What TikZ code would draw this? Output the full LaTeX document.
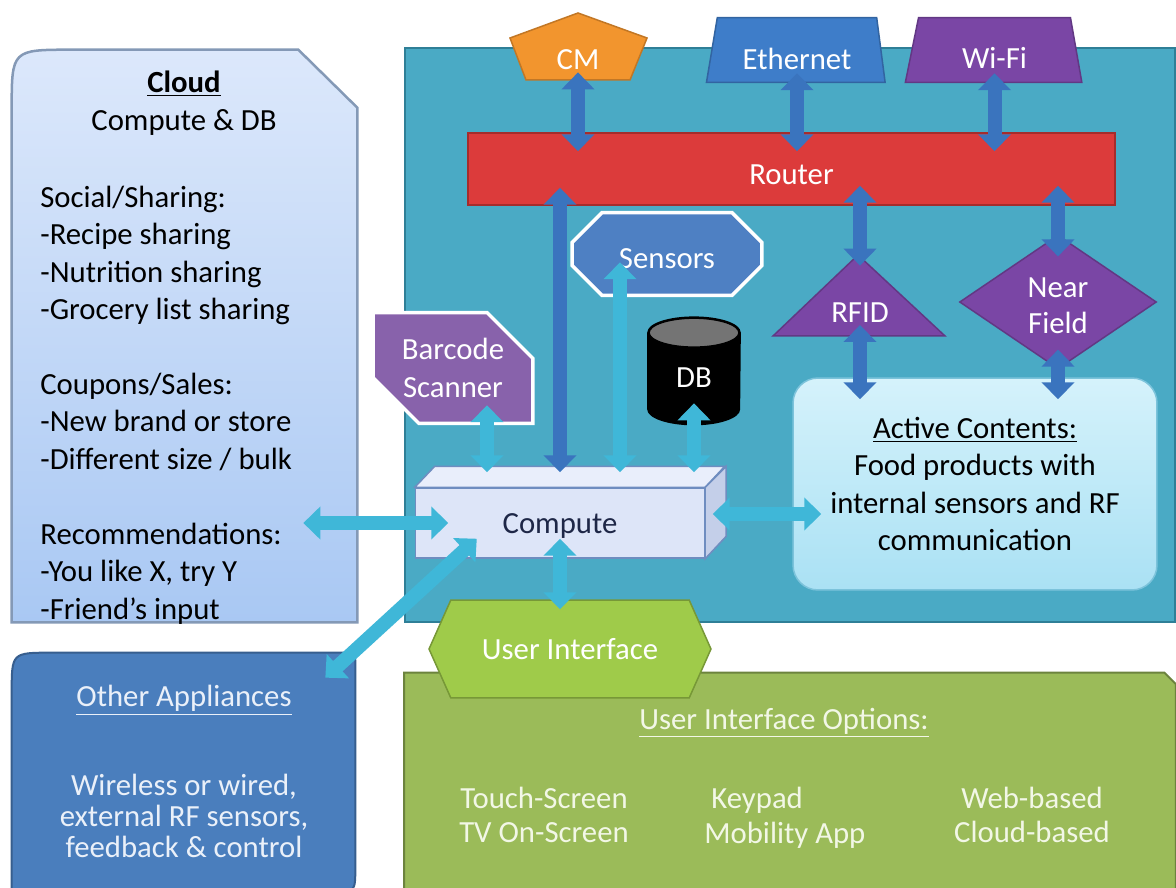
\documentclass[tikz,border=0pt]{standalone}
\usepackage{fontspec}
\setmainfont{Carlito}
\usetikzlibrary{arrows.meta,positioning,calc,shapes.geometric,shapes.misc,shapes.symbols}
\definecolor{fridgeteal}{HTML}{4AAAC5}
\definecolor{fridgeedge}{HTML}{2F7F97}
\definecolor{routerred}{HTML}{DC3B3B}
\definecolor{cmorange}{HTML}{F2952E}
\definecolor{netblue}{HTML}{3E7DC9}
\definecolor{wifipurple}{HTML}{7A46A5}
\definecolor{scanpurple}{HTML}{8862AB}
\definecolor{sensblue}{HTML}{4E80C3}
\definecolor{linkblue}{HTML}{3A74BE}
\definecolor{linkcyan}{HTML}{3FB7D8}
\definecolor{cloudtop}{HTML}{DCE8FB}
\definecolor{cloudbot}{HTML}{A9C8F3}
\definecolor{cloudedge}{HTML}{8499B6}
\definecolor{computefill}{HTML}{DDE5F8}
\definecolor{computetop}{HTML}{E9EEFB}
\definecolor{computeside}{HTML}{C4CFE9}
\definecolor{computeedge}{HTML}{6F8DC0}
\definecolor{computetext}{HTML}{1E2747}
\definecolor{activetop}{HTML}{D5F2FB}
\definecolor{activebot}{HTML}{AAE1F4}
\definecolor{activeedge}{HTML}{7CC3DB}
\definecolor{applblue}{HTML}{4A7EBD}
\definecolor{appltext}{HTML}{EAF0F9}
\definecolor{hexgreen}{HTML}{9FCB4A}
\definecolor{optgreen}{HTML}{9BBB59}
\definecolor{opttext}{HTML}{F2F7E6}
\definecolor{dbtop}{HTML}{747474}
\newcommand{\undl}[1]{\underline{#1}}
\newcommand{\lowtext}[2]{\raisebox{-#1}[\height][\depth]{#2}}
\tikzset{
  boxtext/.style={font=\fontsize{17.5}{21.3}\selectfont, align=center, inner sep=0pt},
  darr/.style={{Triangle[width=0.64cm,length=0.34cm]}-{Triangle[width=0.64cm,length=0.34cm]}, line width=0.28cm, draw=linkblue},
  carr/.style={{Triangle[width=0.64cm,length=0.34cm]}-{Triangle[width=0.64cm,length=0.34cm]}, line width=0.28cm, draw=linkcyan},
}

\begin{document}
\begin{tikzpicture}[x=0.02cm, y=-0.02cm]
\useasboundingbox (0,0) rectangle (1176,888);
\fill[white] (0,0) rectangle (1176,888);

% cloud side
\node[inner sep=0pt, minimum width=6.9cm, minimum height=11.44cm] (cloud) at (184.5,336) {};
\draw[draw=cloudedge, line width=0.05cm, top color=cloudtop, bottom color=cloudbot]
  (cloud.south west) -- ($(cloud.north west)+(0,60)$) .. controls (cloud.north west) .. ($(cloud.north west)+(60,0)$)
  -- ($(cloud.north east)+(-59,0)$) -- ($(cloud.north east)+(0,58)$) -- (cloud.south east) -- cycle;
\node[boxtext] (cloudhead) at (184,103) {\textbf{\undl{Cloud}}\\Compute \& DB};
\node[boxtext, align=left, anchor=west] (cloudlist) at (40,405) {Social/Sharing:\\-Recipe sharing\\-Nutrition sharing\\-Grocery list sharing\\[21.3pt]Coupons/Sales:\\-New brand or store\\-Different size / bulk\\[21.3pt]Recommendations:\\-You like X, try Y\\-Friend’s input};

% fridge box
\node[draw=fridgeedge, fill=fridgeteal, line width=0.05cm, minimum width=15.4cm, minimum height=11.48cm] (fridge) at (790,335) {};

% lower boxes
\node[chamfered rectangle, chamfered rectangle corners=north east, chamfered rectangle xsep=0.68cm, chamfered rectangle ysep=0.64cm, fill=optgreen, draw=optgreen!70!black, line width=0.04cm, minimum width=15.44cm, minimum height=4.7cm] (uiopts) at (790,790) {};
\node[boxtext, text=opttext] (uititle) at (784,723) {\undl{User Interface Options:}};
\node[boxtext, text=opttext, font=\fontsize{17.5}{19.8}\selectfont] (uicol1) at (544,815) {Touch-Screen\\TV On-Screen};
\node[boxtext, text=opttext, font=\fontsize{17.5}{19.8}\selectfont, align=left, anchor=west] (uicol2) at (704,818) {\hspace{4pt}Keypad\\Mobility App};
\node[boxtext, text=opttext, font=\fontsize{17.5}{19.8}\selectfont] (uicol3) at (1032,815) {Web-based\\Cloud-based};

\node[inner sep=0pt, minimum width=6.86cm, minimum height=4.78cm] (other) at (183.5,772.5) {};
\draw[draw=applblue!75!black, line width=0.04cm, fill=applblue]
  ($(other.north west)+(0,40)$) .. controls (other.north west) .. ($(other.north west)+(40,0)$)
  -- ($(other.north east)+(-12,0)$) .. controls (other.north east) .. ($(other.north east)+(0,12)$)
  -- ($(other.south east)+(0,-25)$) .. controls (other.south east) .. ($(other.south east)+(-25,0)$)
  -- (other.south west) -- cycle;
\node[boxtext, text=appltext] (othertitle) at (184,700) {\undl{Other Appliances}};
\node[boxtext, text=appltext, font=\fontsize{17.5}{17.6}\selectfont] (otherbody) at (184,816) {Wireless or wired,\\external RF sensors,\\feedback \& control};

% top row
\filldraw[fill=cmorange, draw=cmorange!80!black, line width=0.03cm] (578,13) -- (647,38) -- (630,80) -- (526,80) -- (510,38) -- cycle;
\node[boxtext, text=white, minimum width=2cm, minimum height=0.88cm] (cm) at (578,58) {\lowtext{0.04cm}{CM}};
\node[trapezium, trapezium left angle=71, trapezium right angle=75, trapezium stretches=true, fill=netblue, draw=netblue!80!black, line width=0.03cm, minimum width=3.58cm, minimum height=1.3cm, boxtext, text=white] (ethernet) at (797,50) {\lowtext{0.18cm}{Ethernet}};
\node[trapezium, trapezium left angle=75, trapezium right angle=77, trapezium stretches=true, fill=wifipurple, draw=wifipurple!80!black, line width=0.03cm, minimum width=3.54cm, minimum height=1.3cm, boxtext, text=white] (wifi) at (994.5,50) {\lowtext{0.16cm}{Wi-Fi}};
\node[fill=routerred, draw=routerred!75!black, line width=0.03cm, minimum width=12.94cm, minimum height=1.44cm, boxtext, text=white] (router) at (791.5,169) {\lowtext{0.12cm}{Router}};

% radios
\filldraw[fill=wifipurple, draw=wifipurple!80!black, line width=0.03cm] (858,255) -- (945,336) -- (773,336) -- cycle;
\node[boxtext, text=white, minimum width=1.5cm, minimum height=1.88cm] (rfid) at (860,313) {RFID};
\node[diamond, fill=wifipurple, draw=wifipurple!80!black, line width=0.03cm, minimum width=3.94cm, minimum height=2.3cm, boxtext, text=white] (nearfield) at (1058,302) {\lowtext{0.12cm}{\begin{tabular}{@{}c@{}}Near\\[-1pt]Field\end{tabular}}};

% inner parts
\node[chamfered rectangle, chamfered rectangle xsep=0.4cm, chamfered rectangle ysep=0.4cm, fill=sensblue, draw=white, line width=0.07cm, minimum width=3.8cm, minimum height=1.66cm, boxtext, text=white] (sensors) at (667,254) {\lowtext{0.1cm}{Sensors}};
\node[chamfered rectangle, chamfered rectangle corners={north east,south west}, chamfered rectangle xsep=0.46cm, chamfered rectangle ysep=0.46cm, fill=scanpurple, draw=white, line width=0.07cm, minimum width=3.2cm, minimum height=2.22cm, boxtext, text=white] (barcode) at (453,368) {Barcode\\Scanner};
\node[boxtext, text=white, minimum width=1.86cm, minimum height=2.16cm] (db) at (694,371) {};
\fill[black] ([yshift=-0.32cm]db.north west) -- ([yshift=0.32cm]db.south west) arc[start angle=180, end angle=360, x radius=0.93cm, y radius=0.32cm] -- ([yshift=-0.32cm]db.north east) -- cycle;
\filldraw[fill=dbtop, draw=black, line width=0.05cm] ([yshift=-0.32cm]db.north) ellipse[x radius=0.91cm, y radius=0.3cm];
\node[boxtext, text=white] (dblabel) at ([yshift=-0.14cm]db.center) {DB};

\node[fill=computefill, draw=computeedge, line width=0.03cm, minimum width=5.78cm, minimum height=1.4cm, boxtext, text=computetext] (compute) at (560,523) {\lowtext{0.06cm}{Compute}};
\filldraw[fill=computetop, draw=computeedge, line width=0.03cm] (compute.north west) -- ++(20,-21) -- ++(290,0) -- (compute.north east) -- cycle;
\filldraw[fill=computeside, draw=computeedge, line width=0.03cm] (compute.north east) -- ++(21,-21) -- ++(0,70) -- (compute.south east) -- cycle;

\node[rounded corners=0.5cm, top color=activetop, bottom color=activebot, draw=activeedge, line width=0.03cm, minimum width=7.28cm, minimum height=4.24cm, boxtext] (active) at (975,484) {\undl{Active Contents:}\\Food products with\\internal sensors and RF\\communication};

\node[signal, signal to=east and west, signal pointer angle=132, fill=hexgreen, draw=hexgreen!75!black, line width=0.03cm, minimum width=5.64cm, minimum height=1.96cm, boxtext, text=white] (uihex) at (570,649) {User Interface};

% links
\coordinate (sensfoot) at ([xshift=-0.94cm]sensors.south);
\coordinate (scanfoot) at ([xshift=0.68cm]barcode.south);
\coordinate (dbfoot) at (db.south);
\coordinate (compside) at ([yshift=0.18cm]compute.east);
\coordinate (diagtop) at ([xshift=1.24cm,yshift=0.4cm]compute.south west);
\coordinate (diagbot) at ([xshift=-0.6cm,yshift=-0.5cm]other.north east);

\draw[darr, shorten <=-0.16cm, shorten >=-0.38cm] (cm.south) -- (cm.south |- router.north);
\draw[darr, shorten <=-0.2cm, shorten >=-0.38cm] (ethernet.south) -- (ethernet.south |- router.north);
\draw[darr, shorten <=-0.2cm, shorten >=-0.38cm] (wifi.south) -- (wifi.south |- router.north);
\draw[darr, shorten <=-0.4cm] (rfid |- router.south) -- (rfid.north);
\draw[darr, shorten <=-0.4cm, shorten >=-0.44cm] (nearfield |- router.south) -- (nearfield.north);
\draw[darr, shorten <=0.24cm, shorten >=-0.44cm] (rfid.center) -- (rfid |- active.north);
\draw[darr, shorten <=-0.4cm, shorten >=-0.44cm] (nearfield.south) -- (nearfield |- active.north);
\draw[darr, shorten <=0.3cm, shorten >=-0.36cm] (compute.north) -- (compute.north |- router.south);

\draw[carr, shorten <=-0.7cm, shorten >=0.3cm] (sensfoot) -- (sensfoot |- compute.north);
\draw[carr, shorten <=-0.4cm, shorten >=0.3cm] (scanfoot) -- (scanfoot |- compute.north);
\draw[carr, shorten <=-0.44cm, shorten >=0.3cm] (dbfoot) -- (dbfoot |- compute.north);
\draw[carr, shorten <=0.15cm, shorten >=-0.58cm] (compside) -- (compside -| active.west);
\draw[carr, shorten <=-1.08cm, shorten >=-0.67cm] (cloud.east |- compute.west) -- (compute.west);
\draw[carr] (diagtop) -- (diagbot);
\draw[carr, shorten <=-0.4cm, shorten >=-0.2cm] (compute.south) -- (compute.south |- uihex.north);
\end{tikzpicture}
\end{document}
